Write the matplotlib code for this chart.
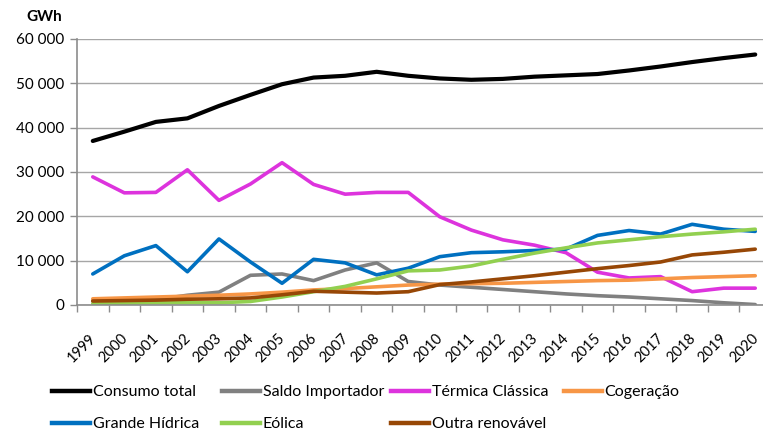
import matplotlib.pyplot as plt
import matplotlib.transforms as mtransforms
from matplotlib.ticker import FuncFormatter, FixedLocator
from matplotlib.lines import Line2D

plt.rcParams['font.family'] = ['Lato', 'DejaVu Sans']

years = list(range(1999, 2021))

consumo = [37000, 39100, 41300, 42100, 44900, 47400, 49800, 51300, 51700, 52600, 51700,
           51100, 50800, 51000, 51500, 51800, 52100, 52900, 53800, 54800, 55700, 56500]
saldo = [900, 1000, 1200, 2200, 2900, 6700, 7000, 5500, 7900, 9500, 5300,
         4500, 4000, 3500, 3000, 2500, 2100, 1800, 1400, 1000, 500, 100]
termica = [28900, 25300, 25400, 30500, 23600, 27300, 32100, 27200, 25000, 25400, 25400,
           19900, 16900, 14700, 13500, 11800, 7400, 6100, 6400, 3000, 3800, 3800]
cogeracao = [1400, 1600, 1800, 2000, 2200, 2500, 2900, 3400, 3700, 4100, 4500,
             4700, 4800, 4900, 5100, 5300, 5500, 5600, 5900, 6200, 6400, 6600]
hidrica = [7000, 11100, 13400, 7500, 14900, 9700, 4900, 10300, 9500, 6800, 8300,
           10900, 11800, 12000, 12300, 12600, 15700, 16800, 16000, 18200, 17100, 16600]
eolica = [300, 400, 500, 500, 500, 800, 1800, 3000, 4200, 5900, 7700,
          7900, 8800, 10300, 11700, 12900, 14000, 14700, 15400, 16000, 16500, 17100]
outra = [900, 1000, 1100, 1300, 1400, 1600, 2300, 3100, 2900, 2700, 3000,
         4600, 5200, 5900, 6600, 7400, 8200, 8900, 9700, 11300, 11900, 12600]

series = [
    ("Consumo total", consumo, "#000000"),
    ("Saldo Importador", saldo, "#808080"),
    ("Térmica Clássica", termica, "#DD33DD"),
    ("Cogeração", cogeracao, "#F79646"),
    ("Grande Hídrica", hidrica, "#0070C0"),
    ("Eólica", eolica, "#92D050"),
    ("Outra renovável", outra, "#974706"),
]

W, H = 763, 430
fig = plt.figure(figsize=(W / 100, H / 100), dpi=100)
ax = fig.add_axes([77 / W, (H - 305) / H, (771 - 77) / W, 266 / H])

x = list(range(len(years)))
colors = {}
for name, vals, col in series:
    lw = 3.0 if name == "Consumo total" else 2.6
    ax.plot(x, vals, color=col, lw=lw, solid_capstyle='round', solid_joinstyle='round')
    colors[name] = col

ax.set_xlim(-0.5, len(years) - 0.5)
ax.set_ylim(0, 60000)
ax.set_yticks(range(0, 60001, 10000))
ax.yaxis.set_major_formatter(FuncFormatter(lambda v, p: f"{int(v):,}".replace(",", " ")))
ax.grid(axis='y', color='#A6A6A6', lw=1.0)
ax.set_axisbelow(True)

ax.set_xticks(x)
ax.set_xticklabels([str(y) for y in years], rotation=45, ha='right', va='top')
ax.xaxis.set_minor_locator(FixedLocator([i - 0.5 for i in range(len(years) + 1)]))
ax.tick_params(axis='x', which='major', length=0, labelsize=10.5, pad=19)
ax.tick_params(axis='x', which='minor', length=5, color='#8C8C8C', width=1)
ax.tick_params(axis='y', length=5, color='#8C8C8C', width=1, labelsize=11, pad=4)

# nudge year labels to the right (after tick_params, which resets transforms)
shift = mtransforms.ScaledTranslation(6 / 100, 0, fig.dpi_scale_trans)
for lab in ax.get_xticklabels():
    lab.set_transform(lab.get_transform() + shift)

for s in ['top', 'right']:
    ax.spines[s].set_visible(False)
for s in ['left', 'bottom']:
    ax.spines[s].set_color('#8C8C8C')
    ax.spines[s].set_linewidth(1.2)

fig.text(62 / W, 1 - 17 / H, "GWh", ha='right', va='center', fontsize=11, fontweight='bold')

# legend entries placed one by one, as in the reference (row-wise)
legend_pos = [
    ("Consumo total", 52, 392), ("Saldo Importador", 222, 392),
    ("Térmica Clássica", 391, 392), ("Cogeração", 564, 392),
    ("Grande Hídrica", 52, 424), ("Eólica", 222, 424), ("Outra renovável", 391, 424),
]
for name, lx, ly in legend_pos:
    h = Line2D([], [], color=colors[name], lw=3.2)
    fig.legend([h], [name], loc='center left', bbox_to_anchor=(lx / W, 1 - ly / H),
               frameon=False, fontsize=11.5, handlelength=2.4, handletextpad=0.15,
               borderpad=0, borderaxespad=0)

fig.savefig("out.png", dpi=100)
